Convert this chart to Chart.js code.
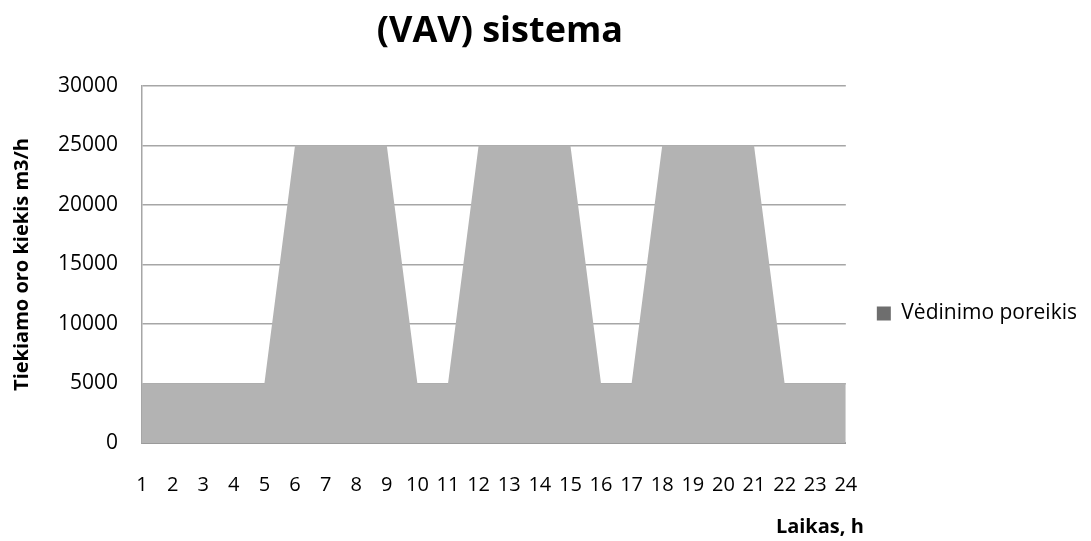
<!DOCTYPE html>
<html>
<head>
<meta charset="utf-8">
<script src="https://cdn.jsdelivr.net/npm/chart.js@4.4.1/dist/chart.umd.min.js"></script>
<style>
  html, body { margin: 0; padding: 0; background: #ffffff; }
  #wrap { width: 1091px; height: 541px; position: relative; }
</style>
</head>
<body>
<div id="wrap"><canvas id="c"></canvas></div>
<script>
// Hourly ventilation demand of the VAV system
const hours = ['1','2','3','4','5','6','7','8','9','10','11','12','13','14','15','16','17','18','19','20','21','22','23','24'];
const demand = [5000,5000,5000,5000,5000,25000,25000,25000,25000,5000,5000,25000,25000,25000,25000,5000,5000,25000,25000,25000,25000,5000,5000,5000];
const yTicks = [0,5000,10000,15000,20000,25000,30000];

const chartTitle = '(VAV) sistema';
const seriesName = 'Vėdinimo poreikis';
const yTitle = 'Tiekiamo oro kiekis m3/h';
const xTitle = 'Laikas, h';

const FONT = '"Open Sans", Lato, sans-serif';

// Chart title centred over the plotting area, plus the x-axis caption
// which sits a little past the right end of the axis
const captionPlugin = {
  id: 'captions',
  afterDraw(chart) {
    const { ctx, chartArea } = chart;
    ctx.save();
    ctx.fillStyle = '#000000';
    ctx.font = 'bold 36px ' + FONT;
    ctx.textAlign = 'center';
    ctx.textBaseline = 'middle';
    ctx.fillText(chartTitle, (chartArea.left + chartArea.right) / 2 + 6, 32);

    ctx.font = 'bold 20px ' + FONT;
    ctx.textAlign = 'right';
    ctx.fillText(xTitle, chartArea.right + 18, 527);
    ctx.restore();
  }
};

new Chart(document.getElementById('c'), {
  type: 'line',
  data: {
    labels: hours,
    datasets: [{
      label: seriesName,
      data: demand,
      fill: 'origin',
      backgroundColor: '#b3b3b3',
      borderColor: '#b3b3b3',
      borderWidth: 0,
      pointRadius: 0,
      tension: 0
    }]
  },
  options: {
    responsive: true,
    maintainAspectRatio: false,
    animation: false,
    layout: { padding: { top: 86, right: 4, bottom: 0, left: 0 } },
    plugins: {
      title: { display: false },
      tooltip: { enabled: false },
      legend: {
        position: 'right',
        labels: {
          font: { family: FONT, size: 21 },
          color: '#000000',
          boxWidth: 14,
          boxHeight: 14,
          padding: 31,
          generateLabels: (chart) => chart.data.datasets.map((ds, i) => ({
            text: ds.label,
            fillStyle: '#6e6e6e',
            strokeStyle: '#6e6e6e',
            lineWidth: 0,
            datasetIndex: i
          }))
        }
      }
    },
    scales: {
      x: {
        offset: false,
        grid: { display: false, drawTicks: false },
        border: { display: true, color: '#9a9a9a', width: 2 },
        ticks: {
          font: { family: FONT, size: 20 },
          color: '#000000',
          padding: 30,
          maxRotation: 0,
          autoSkip: false
        },
        afterFit(scale) { scale.height = 98; }
      },
      y: {
        min: 0,
        max: 30000,
        afterBuildTicks(scale) { scale.ticks = yTicks.map(v => ({ value: v })); },
        grid: { color: '#a6a6a6', lineWidth: 1.5, drawTicks: false },
        border: { display: true, color: '#a6a6a6', width: 1.5 },
        ticks: {
          font: { family: FONT, size: 21 },
          color: '#000000',
          padding: 24,
          callback: (v) => String(v)
        },
        title: {
          display: true,
          text: yTitle,
          font: { family: FONT, size: 20, weight: 'bold' },
          color: '#000000',
          padding: { top: 10, bottom: 0 }
        },
        afterFit(scale) { scale.width = 142; }
      }
    }
  },
  plugins: [captionPlugin]
});
</script>
</body>
</html>
